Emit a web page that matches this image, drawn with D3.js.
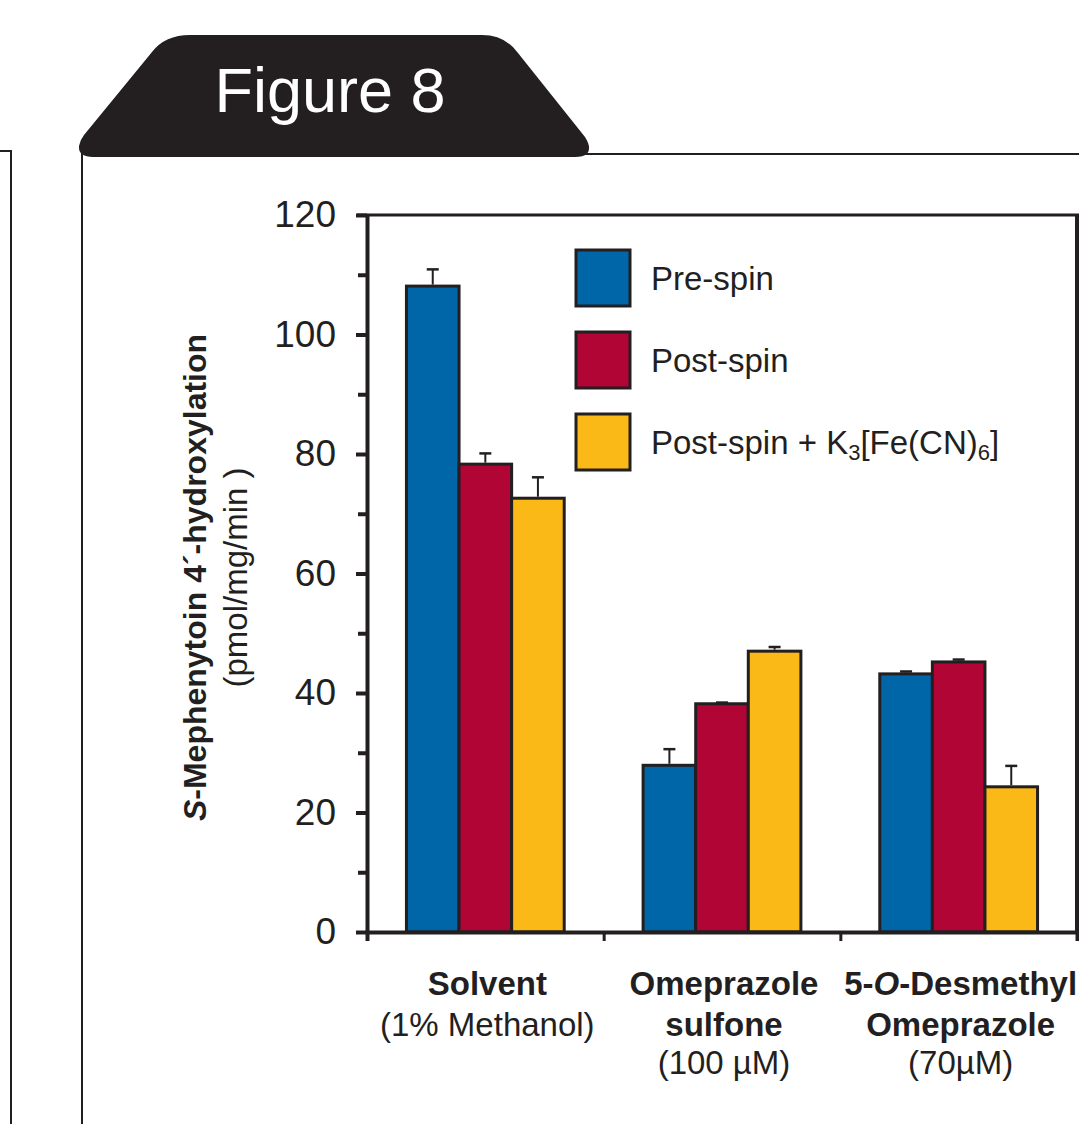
<!DOCTYPE html>
<html>
<head>
<meta charset="utf-8">
<script src="https://cdn.jsdelivr.net/npm/d3@7"></script>
<style>
  html, body { margin: 0; padding: 0; background: #fff; }
  svg { display: block; font-family: "Liberation Sans", Arial, sans-serif; }
</style>
</head>
<body>
<div id="chart"></div>
<script>
// Datos
var categories = ["Solvent", "Omeprazole sulfone", "5-O-Desmethyl Omeprazole"];
var seriesNames = ["Pre-spin", "Post-spin", "Post-spin + K3[Fe(CN)6]"];
var preSpin = [108.1, 27.9, 43.2];
var preSpinErr = [2.8, 2.7, 0.4];
var postSpin = [78.3, 38.2, 45.2];
var postSpinErr = [1.8, 0.2, 0.4];
var postSpinK3 = [72.6, 47.0, 24.3];
var postSpinK3Err = [3.5, 0.7, 3.5];
var yTicks = [0, 20, 40, 60, 80, 100, 120];
var yMinorTicks = [10, 30, 50, 70, 90, 110];
var colors = ["#0066a8", "#b10535", "#fbb917"];

var values = [preSpin, postSpin, postSpinK3];
var errors = [preSpinErr, postSpinErr, postSpinK3Err];

var width = 1079;
var height = 1124;
var ink = "#231f20";

// Área del gráfico
var margin = { top: 215, right: 2, bottom: 192, left: 367 };

var svg = d3.select("#chart")
    .append("svg")
    .attr("width", width)
    .attr("height", height);

// Marco de la figura (panel anterior y pestaña)
svg.append("path")
    .attr("d", "M0,151 L11,151 L11,1124")
    .attr("fill", "none").attr("stroke", ink).attr("stroke-width", 2);
svg.append("path")
    .attr("d", "M82,150 L82,1124 M585,154 L1079,154")
    .attr("fill", "none").attr("stroke", ink).attr("stroke-width", 2);
svg.append("path")
    .attr("d", "M575,157 L93,157 Q78,157 79,146 Q80,140 84,135 L152,52 Q165,35 190,35 L482,35 Q505,35 518,53 L585,137 Q592,148 587,154 Q583,157 575,157 Z")
    .attr("fill", ink);
svg.append("text")
    .attr("x", 330)
    .attr("y", 112)
    .attr("text-anchor", "middle")
    .attr("fill", "#fff")
    .attr("font-size", 63)
    .text("Figure 8");

// Escalas
var x = d3.scaleBand()
    .domain(categories)
    .range([margin.left, width - margin.right]);

var xSub = d3.scaleBand()
    .domain(seriesNames)
    .range([x.bandwidth() / 6, x.bandwidth() * 5 / 6]);

var y = d3.scaleLinear()
    .domain([0, 120])
    .range([height - margin.bottom, margin.top]);

// Borde superior y derecho
svg.append("path")
    .attr("d", "M" + (margin.left - 10) + "," + y(120) + " L" + width + "," + y(120))
    .attr("stroke", ink).attr("stroke-width", 3);
svg.append("line")
    .attr("x1", width - margin.right).attr("x2", width - margin.right)
    .attr("y1", y(120)).attr("y2", y(0))
    .attr("stroke", ink).attr("stroke-width", 4);

// Barras
var groups = svg.append("g").selectAll("g")
    .data(categories)
    .join("g")
    .attr("transform", function(d) { return "translate(" + x(d) + ",0)"; });

groups.selectAll("rect")
    .data(function(d, i) {
        return seriesNames.map(function(s, j) {
            return { s: s, j: j, v: values[j][i], e: errors[j][i] };
        });
    })
    .join("rect")
    .attr("x", function(d) { return xSub(d.s); })
    .attr("y", function(d) { return y(d.v); })
    .attr("width", xSub.bandwidth())
    .attr("height", function(d) { return y(0) - y(d.v); })
    .attr("fill", function(d) { return colors[d.j]; })
    .attr("stroke", ink)
    .attr("stroke-width", 3);

// Barras de error
var err = groups.selectAll("g.err")
    .data(function(d, i) {
        return seriesNames.map(function(s, j) {
            return { s: s, v: values[j][i], e: errors[j][i] };
        });
    })
    .join("g")
    .attr("class", "err")
    .attr("transform", function(d) { return "translate(" + (xSub(d.s) + xSub.bandwidth() / 2) + ",0)"; });

err.append("line")
    .attr("x1", 0).attr("x2", 0)
    .attr("y1", function(d) { return y(d.v) - 1.5; })
    .attr("y2", function(d) { return y(d.v + d.e); })
    .attr("stroke", ink).attr("stroke-width", 2);
err.append("line")
    .attr("x1", -6).attr("x2", 6)
    .attr("y1", function(d) { return y(d.v + d.e); })
    .attr("y2", function(d) { return y(d.v + d.e); })
    .attr("stroke", ink).attr("stroke-width", 2.5);

// Eje Y
var yAxis = svg.append("g")
    .attr("transform", "translate(" + margin.left + ",0)")
    .call(d3.axisLeft(y).tickValues(yTicks).tickSize(11).tickPadding(20).tickSizeOuter(0));
yAxis.select(".domain").attr("stroke", ink).attr("stroke-width", 4);
yAxis.selectAll(".tick line").attr("stroke", ink).attr("stroke-width", 4);
yAxis.selectAll(".tick text")
    .attr("fill", ink)
    .attr("font-size", 37)
    .attr("font-family", "Liberation Sans, Arial, sans-serif");

var yMinor = svg.append("g")
    .attr("transform", "translate(" + margin.left + ",0)")
    .call(d3.axisLeft(y).tickValues(yMinorTicks).tickSize(9).tickFormat(""));
yMinor.select(".domain").remove();
yMinor.selectAll(".tick line").attr("stroke", ink).attr("stroke-width", 4);

// Eje X (marcas entre grupos)
var xEdges = d3.scaleLinear().domain([0, categories.length]).range(x.range());
var xAxis = svg.append("g")
    .attr("transform", "translate(0," + y(0) + ")")
    .call(d3.axisBottom(xEdges).tickValues(d3.range(categories.length + 1)).tickSize(9).tickFormat(""));
xAxis.select(".domain").attr("stroke", ink).attr("stroke-width", 4);
xAxis.selectAll(".tick line").attr("stroke", ink).attr("stroke-width", 3);

// Etiquetas del eje X
var xLabelLines = [
    [[["Solvent", "bold", "normal"]], [["(1% Methanol)", "normal", "normal"]]],
    [[["Omeprazole", "bold", "normal"]], [["sulfone", "bold", "normal"]], [["(100 µM)", "normal", "normal"]]],
    [[["5-", "bold", "normal"], ["O", "bold", "italic"], ["-Desmethyl", "bold", "normal"]],
     [["Omeprazole", "bold", "normal"]], [["(70µM)", "normal", "normal"]]]
];
var lineY = [995, 1036, 1074];

categories.forEach(function(c, i) {
    xLabelLines[i].forEach(function(parts, k) {
        var t = svg.append("text")
            .attr("x", x(c) + x.bandwidth() / 2 + 2)
            .attr("y", lineY[k])
            .attr("text-anchor", "middle")
            .attr("font-size", 33)
            .attr("fill", ink);
        parts.forEach(function(p) {
            t.append("tspan")
                .attr("font-weight", p[1])
                .attr("font-style", p[2])
                .text(p[0]);
        });
    });
});

// Título del eje Y
var yMid = (y(0) + y(120)) / 2 + 4;
var yTitle = svg.append("text")
    .attr("transform", "translate(206," + yMid + ") rotate(-90)")
    .attr("text-anchor", "middle")
    .attr("font-size", 32)
    .attr("font-weight", "bold")
    .attr("fill", ink);
yTitle.append("tspan").attr("font-style", "italic").text("S");
yTitle.append("tspan").text("-Mephenytoin 4´-hydroxylation");

svg.append("text")
    .attr("transform", "translate(247," + yMid + ") rotate(-90)")
    .attr("text-anchor", "middle")
    .attr("font-size", 33)
    .attr("fill", ink)
    .text("(pmol/mg/min )");

// Leyenda
var legend = svg.append("g")
    .selectAll("g")
    .data(seriesNames)
    .join("g")
    .attr("transform", function(d, i) { return "translate(576," + (250 + i * 82) + ")"; });

legend.append("rect")
    .attr("width", 54)
    .attr("height", 56)
    .attr("fill", function(d, i) { return colors[i]; })
    .attr("stroke", ink)
    .attr("stroke-width", 3);

var legendText = legend.append("text")
    .attr("x", 75)
    .attr("y", 40)
    .attr("font-size", 33)
    .attr("fill", ink);

legendText.each(function(d) {
    var t = d3.select(this);
    var m = d.match(/^(.*K)(\d)\[(.*)\)(\d)\]$/);
    if (!m) { t.text(d); return; }
    t.append("tspan").text(m[1]);
    t.append("tspan").attr("font-size", 22).attr("dy", 6).text(m[2]);
    t.append("tspan").attr("dy", -6).text("[" + m[3] + ")");
    t.append("tspan").attr("font-size", 22).attr("dy", 6).text(m[4]);
    t.append("tspan").attr("dy", -6).text("]");
});
</script>
</body>
</html>
